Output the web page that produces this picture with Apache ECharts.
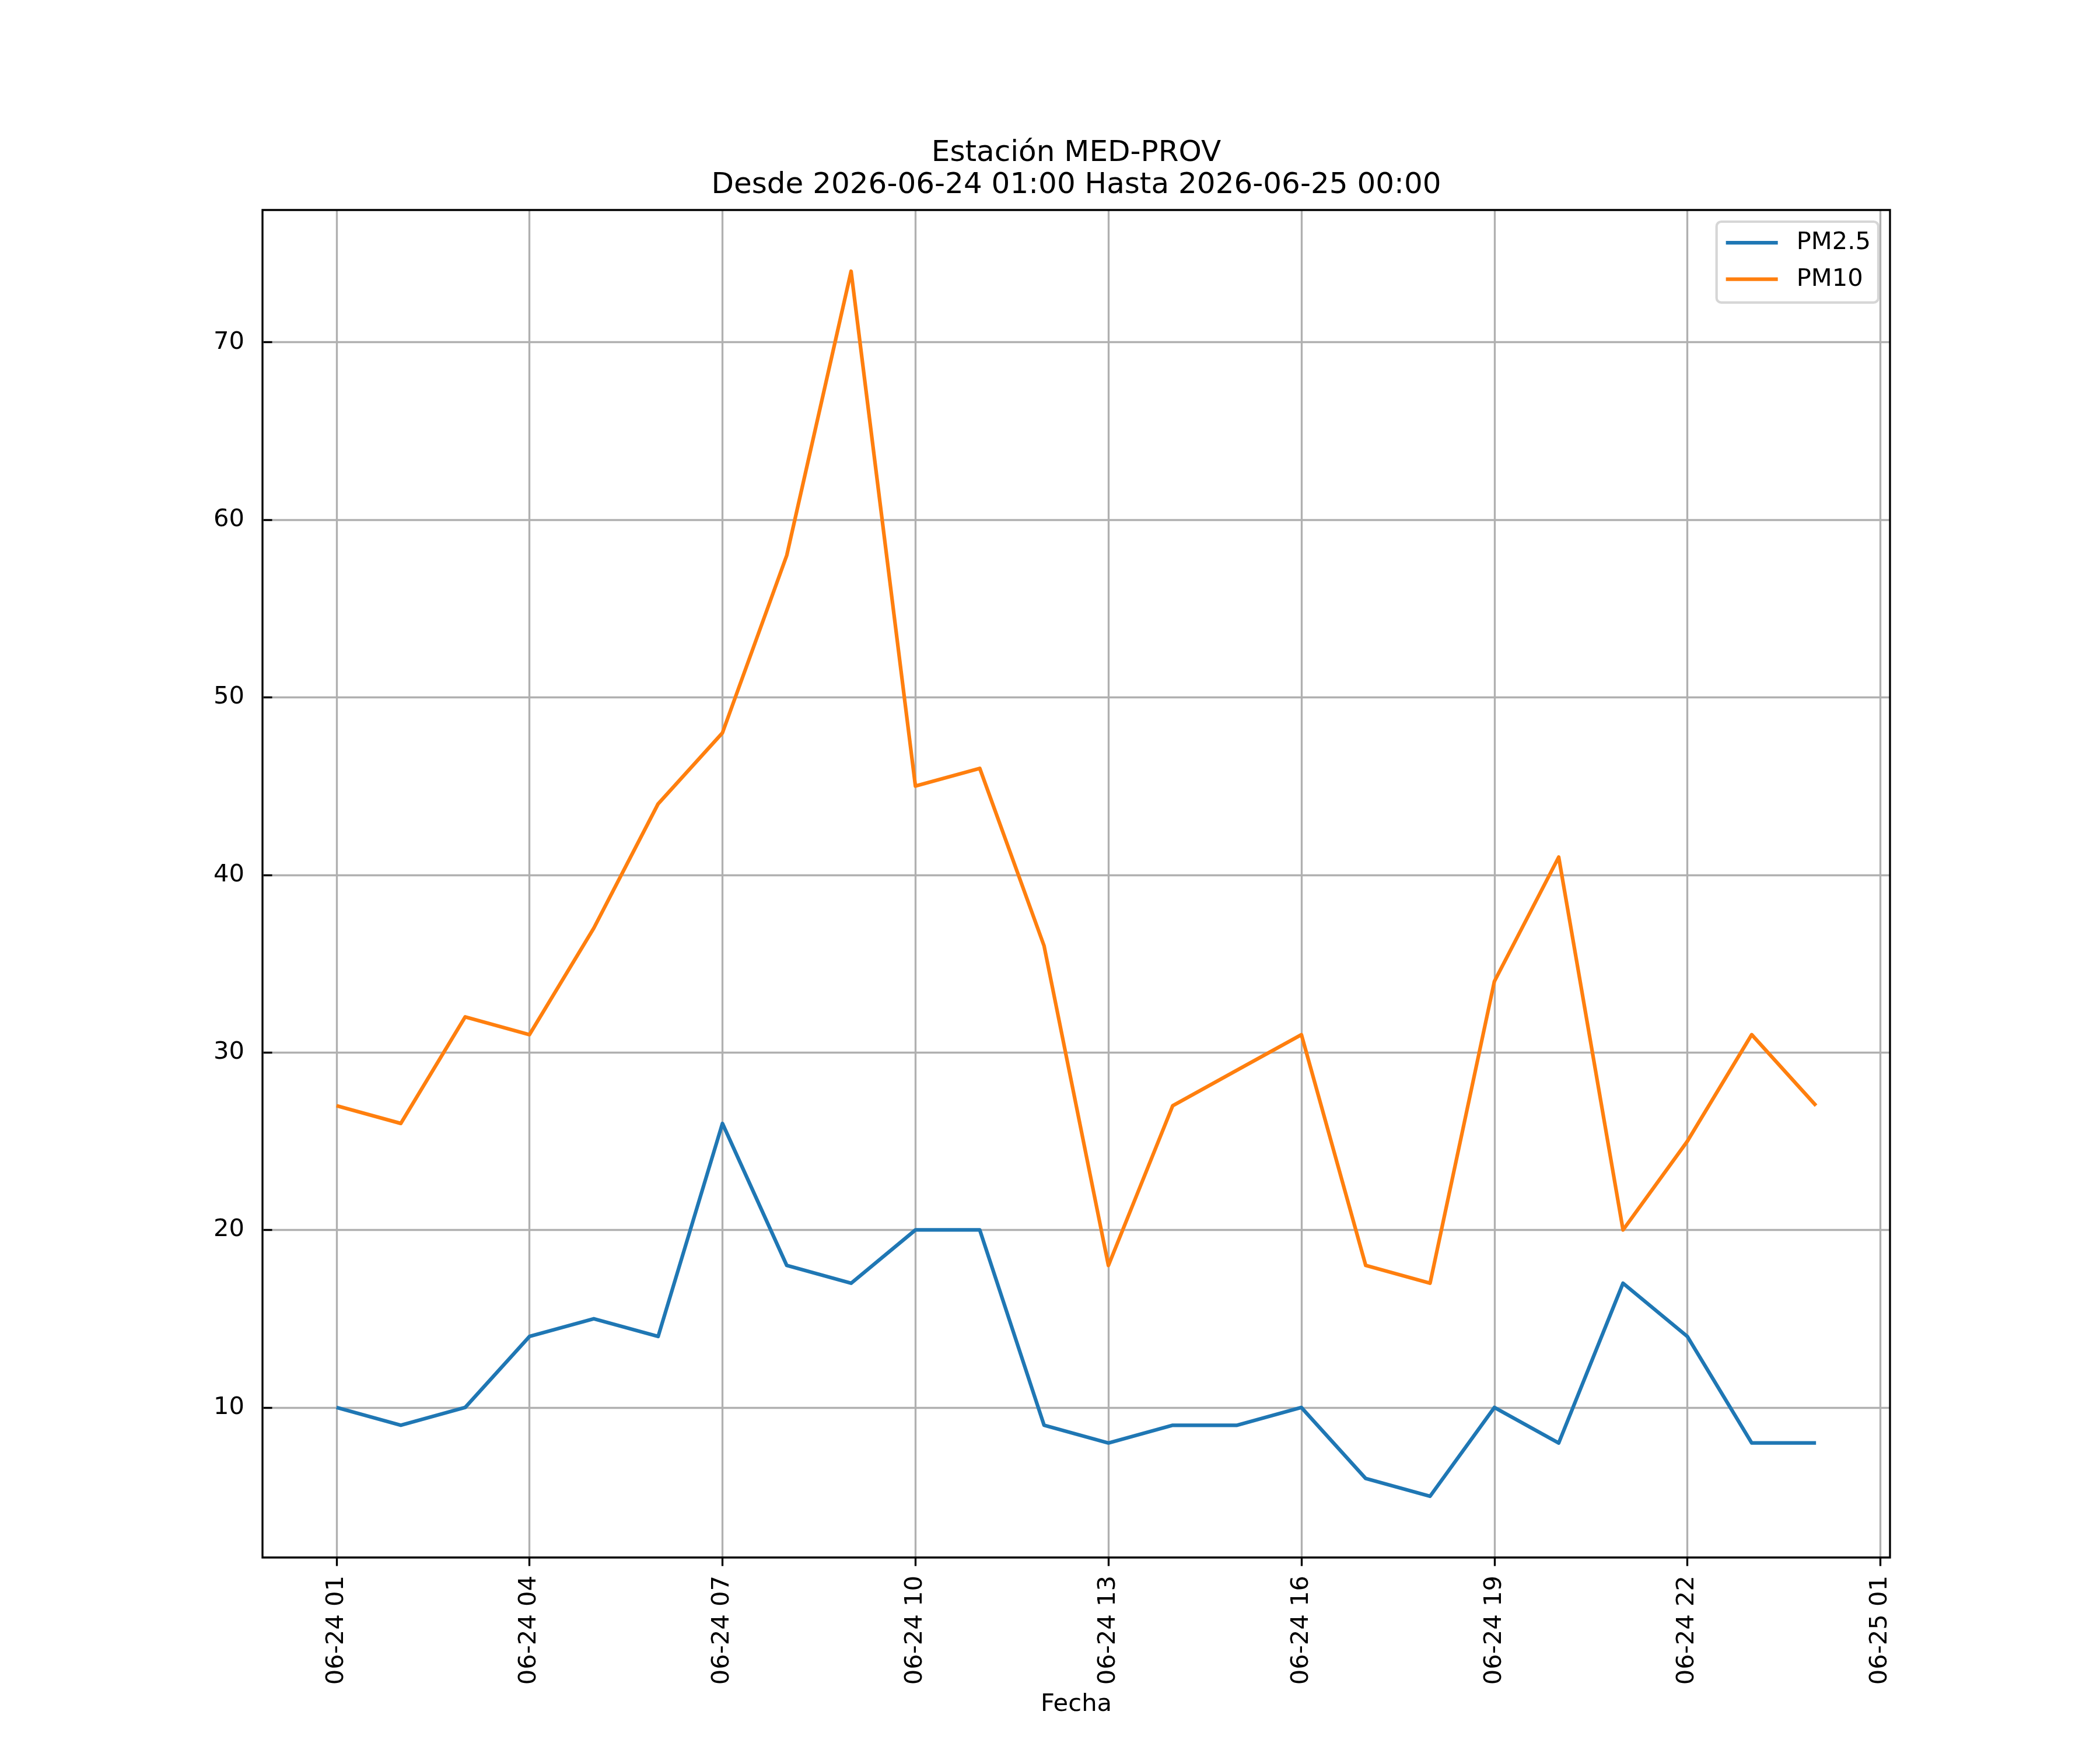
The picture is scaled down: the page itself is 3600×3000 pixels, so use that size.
<!DOCTYPE html>
<html>
<head>
<meta charset="utf-8">
<script src="https://cdn.jsdelivr.net/npm/echarts@6/dist/echarts.min.js"></script>
<style>
html,body{margin:0;padding:0;background:#fff;}
#chart{width:3600px;height:3000px;}
</style>
</head>
<body>
<div id="chart"></div>
<script>
// hours after 2026-06-24 00:00 (24 = 2026-06-25 00:00)
const hours = [1,2,3,4,5,6,7,8,9,10,11,12,13,14,15,16,17,18,19,20,21,22,23,24];
const pm25 = [10,9,10,14,15,14,26,18,17,20,20,9,8,9,9,10,6,5,10,8,17,14,8,8];
const pm10 = [27,26,32,31,37,44,48,58,74,45,46,36,18,27,29,31,18,17,34,41,20,25,31,27];
const xTickValues = [1,4,7,10,13,16,19,22,25];
const xTickLabels = ['06-24 01','06-24 04','06-24 07','06-24 10','06-24 13','06-24 16','06-24 19','06-24 22','06-25 01'];
const yTickValues = [10,20,30,40,50,60,70];
const yTickLabels = ['10','20','30','40','50','60','70'];
const titleLines = ['Estación MED-PROV','Desde 2026-06-24 01:00 Hasta 2026-06-25 00:00'];

const FONT = 'DejaVu Sans';
const L = 450, R = 3240, T = 360, B = 2670;
// legend handle: thick line centred in an 89x42 box
const legendIcon = 'path://M0,0L0.001,0Z M0,17.9L89,17.9L89,24.15L0,24.15Z M88.999,42L89,42Z';

const chart = echarts.init(document.getElementById('chart'), null, {renderer:'canvas'});
chart.setOption({
  animation: false,
  backgroundColor: '#ffffff',
  textStyle: {fontFamily: FONT},
  grid: {left: L, right: 3600 - R, top: T, bottom: 3000 - B, show: true,
         borderColor: '#000', borderWidth: 3.33, backgroundColor: 'transparent', z: 5},
  graphic: [
    {type:'text', x:1845, y:263.5, z:10, style:{text:titleLines[0], font:'50px "DejaVu Sans"', fill:'#000', align:'center', verticalAlign:'middle'}},
    {type:'text', x:1845, y:318.5, z:10, style:{text:titleLines[1], font:'50px "DejaVu Sans"', fill:'#000', align:'center', verticalAlign:'middle'}}
  ],
  legend: {
    orient: 'vertical', right: 3600 - 3220, top: 380,
    icon: legendIcon, symbolKeepAspect: false,
    itemWidth: 89, itemHeight: 42, itemGap: 20.7,
    padding: [15, 13, 19, 16],
    backgroundColor: 'rgba(255,255,255,0.8)',
    borderColor: '#d6d6d6', borderWidth: 4.2, borderRadius: 8,
    textStyle: {fontFamily: FONT, fontSize: 41.67, color: '#000', padding: [0,0,0,27]},
    data: ['PM2.5','PM10']
  },
  xAxis: {
    type: 'value', min: -0.15, max: 25.15,
    name: 'Fecha', nameLocation: 'middle', nameGap: 252.6,
    nameTextStyle: {fontFamily: FONT, fontSize: 41.67, color: '#000', verticalAlign: 'middle'},
    axisLine: {show: false},
    axisTick: {show: true, length: 14.6, lineStyle: {color: '#000', width: 3.33}, customValues: xTickValues},
    axisLabel: {rotate: 90, margin: 31, fontFamily: FONT, fontSize: 41.67, color: '#000',
      customValues: xTickValues,
      formatter: v => { const i = xTickValues.indexOf(Math.round(v)); return i >= 0 ? xTickLabels[i] : ''; }},
    splitLine: {show: true, lineStyle: {color: '#b0b0b0', width: 3.33}}
  },
  yAxis: {
    type: 'value', min: 1.55, max: 77.45,
    axisLine: {show: false},
    axisTick: {show: true, length: 14.6, lineStyle: {color: '#000', width: 3.33}, customValues: yTickValues},
    axisLabel: {margin: 31, fontFamily: FONT, fontSize: 41.67, color: '#000',
      customValues: yTickValues,
      formatter: v => { const i = yTickValues.indexOf(Math.round(v)); return i >= 0 ? yTickLabels[i] : ''; }},
    splitLine: {show: true, lineStyle: {color: '#b0b0b0', width: 3.33}}
  },
  series: [
    {name: 'PM2.5', type: 'line', symbol: 'none', data: hours.map((h, i) => [h, pm25[i]]),
     lineStyle: {color: '#1f77b4', width: 6.25, join: 'round'}, itemStyle: {color: '#1f77b4'}, z: 3},
    {name: 'PM10', type: 'line', symbol: 'none', data: hours.map((h, i) => [h, pm10[i]]),
     lineStyle: {color: '#ff7f0e', width: 6.25, join: 'round'}, itemStyle: {color: '#ff7f0e'}, z: 4}
  ]
});
</script>
</body>
</html>
